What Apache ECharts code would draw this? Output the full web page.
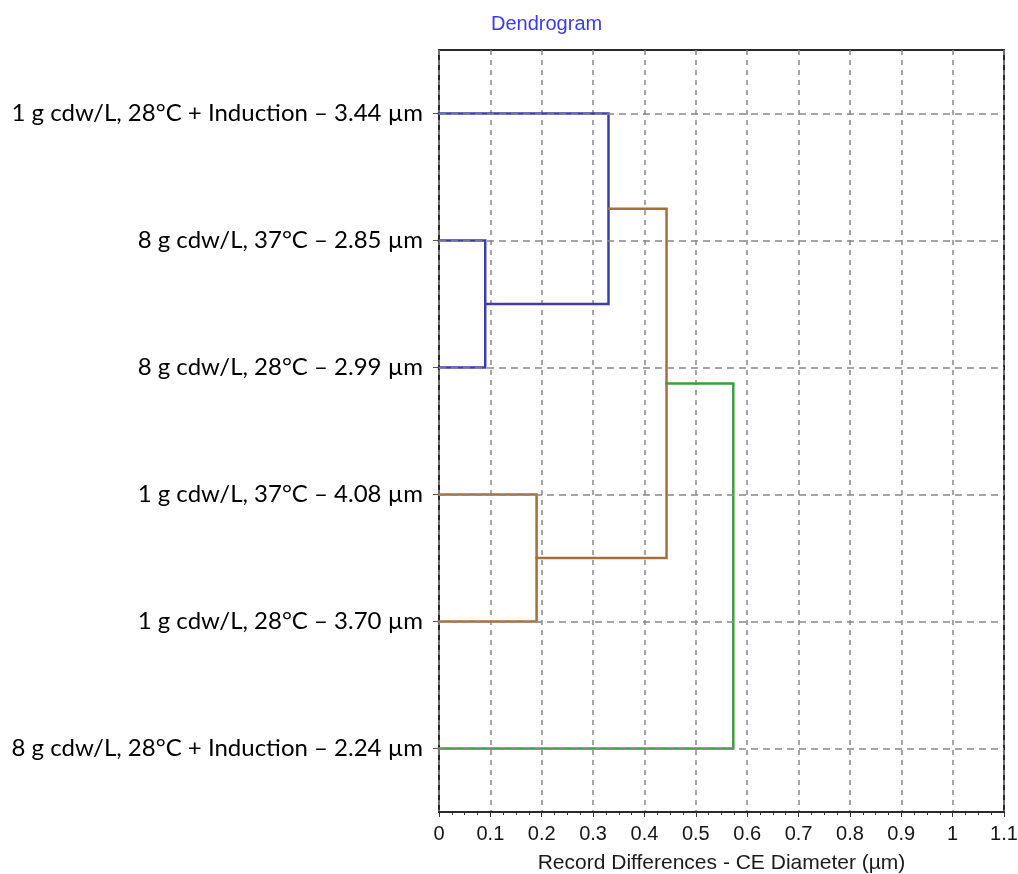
<!DOCTYPE html>
<html>
<head>
<meta charset="utf-8">
<title>Dendrogram</title>
<script src="https://cdn.jsdelivr.net/npm/echarts@6/dist/echarts.min.js"></script>
<style>
  html, body { margin: 0; padding: 0; background: #fff; }
  #chart { width: 1018px; height: 874px; }
</style>
</head>
<body>
<div id="chart"></div>
<script>
// Leaves of the tree, top to bottom
const leafLabels = [
  '1 g cdw/L, 28°C + Induction – 3.44 µm',
  '8 g cdw/L, 37°C – 2.85 µm',
  '8 g cdw/L, 28°C – 2.99 µm',
  '1 g cdw/L, 37°C – 4.08 µm',
  '1 g cdw/L, 28°C – 3.70 µm',
  '8 g cdw/L, 28°C + Induction – 2.24 µm'
];
// Merge steps: pairs of node ids (leaves are 0..5, each merge creates the next id)
const mergePairs = [[1, 2], [0, 6], [3, 4], [7, 8], [9, 5]];
// Distance (µm) at which each merge happens
const mergeHeights = [0.09, 0.33, 0.19, 0.443, 0.573];
// Cluster colour of each merge link
const mergeColors = ['#3d3dab', '#3d3dab', '#a66f3a', '#a66f3a', '#37a337'];
// Difference axis ticks
const xTicks = [0, 0.1, 0.2, 0.3, 0.4, 0.5, 0.6, 0.7, 0.8, 0.9, 1, 1.1];

// Position of every node: x = merge distance, y = row (mean of children)
const nodeX = leafLabels.map(() => 0);
const nodeY = leafLabels.map((_, i) => i);
const linkSeries = mergePairs.map((pair, k) => {
  const [a, b] = pair;
  const h = mergeHeights[k];
  const pts = [[nodeX[a], nodeY[a]], [h, nodeY[a]], [h, nodeY[b]], [nodeX[b], nodeY[b]]];
  nodeX.push(h);
  nodeY.push((nodeY[a] + nodeY[b]) / 2);
  return {
    type: 'line',
    xAxisIndex: 0,
    yAxisIndex: 1,
    data: pts,
    showSymbol: false,
    symbol: 'none',
    z: 4,
    lineStyle: { color: mergeColors[k], width: 2.5, join: 'miter', cap: 'square' },
    silent: true
  };
});

// Dashed horizontal guide at every leaf row
const rowGuides = {
  type: 'line',
  xAxisIndex: 0,
  yAxisIndex: 1,
  data: [],
  z: 1,
  silent: true,
  markLine: {
    silent: true,
    symbol: ['none', 'none'],
    label: { show: false },
    lineStyle: { color: '#888', type: [7, 5], width: 1.5 },
    data: leafLabels.map((_, i) => ({ yAxis: i }))
  }
};

const axisFont = 'Liberation Sans, Arial, sans-serif';

const chart = echarts.init(document.getElementById('chart'), null, { renderer: 'canvas' });
chart.setOption({
  animation: false,
  backgroundColor: '#ffffff',
  title: {
    text: 'Dendrogram',
    left: 486,
    top: 9,
    textStyle: { color: '#3a3af0', fontSize: 20, fontWeight: 'normal', fontFamily: axisFont }
  },
  grid: {
    left: 439, right: 14, top: 50, bottom: 62,
    show: true, borderColor: '#2a2a2a', borderWidth: 2, backgroundColor: 'transparent',
    containLabel: false,
    outerBoundsMode: 'none'
  },
  xAxis: [{
    type: 'value',
    min: xTicks[0],
    max: xTicks[xTicks.length - 1],
    interval: 0.1,
    name: 'Record Differences - CE Diameter (µm)',
    nameLocation: 'middle',
    nameGap: 41,
    nameTextStyle: { color: '#1a1a1a', fontSize: 21, fontFamily: axisFont },
    axisLine: { show: true, onZero: false, lineStyle: { color: '#2a2a2a', width: 2 } },
    axisTick: { show: true, length: 5, lineStyle: { color: '#333', width: 1 } },
    minorTick: { show: true, splitNumber: 4, length: 3, lineStyle: { color: '#333', width: 1 } },
    axisLabel: {
      margin: 12,
      color: '#151515',
      fontSize: 20,
      fontFamily: axisFont,
      formatter: v => String(Math.round(v * 10) / 10)
    },
    splitLine: { show: true, lineStyle: { color: '#888', type: [5, 5], width: 1.5 } }
  }],
  yAxis: [{
    type: 'category',
    data: leafLabels,
    inverse: true,
    boundaryGap: true,
    axisLine: { show: false, onZero: false },
    axisTick: { show: true, alignWithLabel: true, length: 6, lineStyle: { color: '#555', width: 1 } },
    axisLabel: {
      margin: 16,
      color: '#000',
      fontSize: 24,
      fontFamily: 'Lato, "Open Sans", sans-serif'
    },
    splitLine: { show: false }
  }, {
    type: 'value',
    inverse: true,
    min: -0.5,
    max: leafLabels.length - 0.5,
    show: false,
    axisLine: { onZero: false },
    splitLine: { show: false }
  }],
  series: [rowGuides].concat(linkSeries)
});
</script>
</body>
</html>
